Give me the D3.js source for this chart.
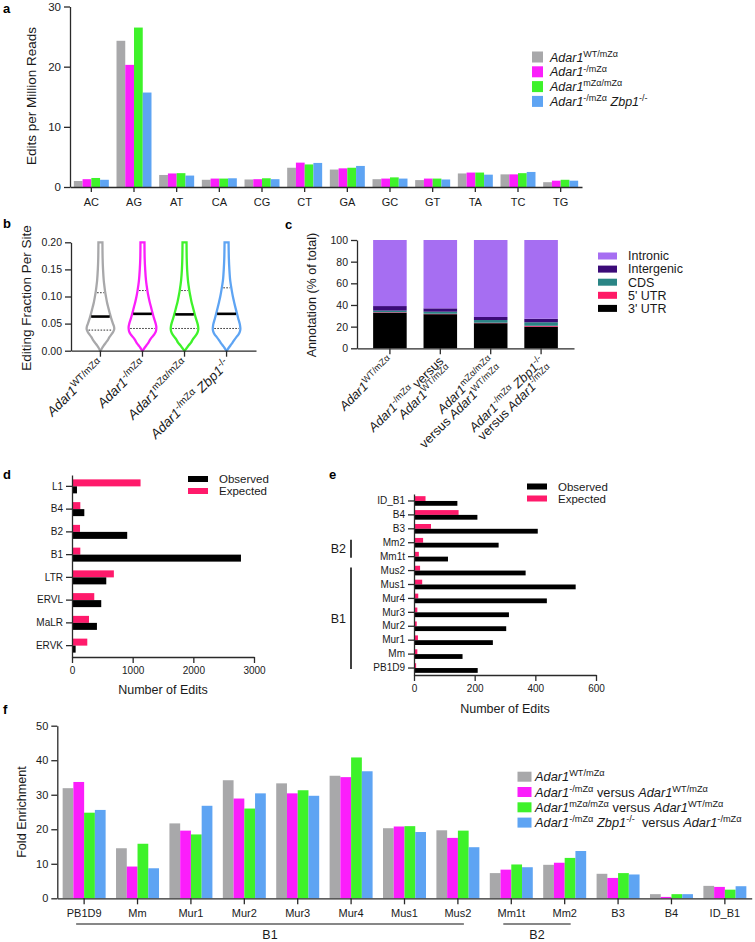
<!DOCTYPE html>
<html><head><meta charset="utf-8">
<script src="https://cdn.jsdelivr.net/npm/d3@7"></script>
<style>body{margin:0;background:#fff} svg{display:block} text{white-space:pre}</style>
</head><body><svg id="c" width="755" height="942"></svg>
<script>
// ---------- DATA ----------
const seriesColors = ["#a8a8aa","#fb1efb","#3ef22a","#5ea4f3"];
const aCats = ["AC","AG","AT","CA","CG","CT","GA","GC","GT","TA","TC","TG"];
const aWT   = [1.0,24.3,2.0,1.2,1.25,3.2,2.9,1.3,1.15,2.25,2.1,0.8];
const aNull = [1.3,20.3,2.25,1.4,1.3,4.05,3.1,1.4,1.4,2.4,2.1,1.05];
const aMZ   = [1.5,26.5,2.3,1.4,1.45,3.75,3.2,1.6,1.4,2.4,2.3,1.2];
const aZbp  = [1.2,15.7,1.9,1.45,1.3,4.0,3.5,1.4,1.25,2.05,2.5,1.05];
const aTicks = [0,10,20,30];
const aLegend = ["*Adar1*^WT/mZα^","*Adar1*^-/mZα^","*Adar1*^mZα/mZα^","*Adar1*^-/mZα^ *Zbp1*^-/-^"];

const bGroups = ["WT","Null","MZ","Zbp"];
const bLabels = ["*Adar1*^WT/mZα^","*Adar1*^-/mZα^","*Adar1*^mZα/mZα^","*Adar1*^-/mZα^ *Zbp1*^-/-^"];
const bLevels = [0,0.005,0.01,0.015,0.02,0.025,0.03,0.035,0.04,0.045,0.05,0.06,0.07,0.08,0.09,0.10,0.11,0.12,0.13,0.15,0.17,0.20];
const bDensWT   = [0.3,1.7,3.5,5.5,7.5,9,11,12.8,13.8,13.5,12.5,10.7,9.2,7.8,6.5,5.5,4.6,3.9,3.3,2.6,2.2,2.0];
const bDensNull = [0.3,2,4,6,7.5,9.5,11.8,13.3,13.8,13.8,13.2,11.5,10,8.6,7.2,6,5,4.2,3.5,2.7,2.2,2.0];
const bDensMZ   = [0.3,2.2,4.2,6.5,8,10,12,13.3,13.8,13.6,13,11.3,9.8,8.4,7,5.9,4.9,4.1,3.4,2.6,2.2,2.0];
const bDensZbp  = [0.3,2,4,6,7.8,9.8,12,13.3,13.8,13.6,13.1,11.6,10.2,8.8,7.5,6.3,5.3,4.4,3.6,2.8,2.3,2.0];
const bMedian = [0.063,0.068,0.067,0.068];
const bQ1 = [0.038,0.041,0.041,0.041];
const bQ3 = [0.107,0.111,0.111,0.116];
const bTicks = [0,0.05,0.10,0.15,0.20];

const cCats = ["c1","c2","c3","c4"];
const cLabels = [["*Adar1*^WT/mZα^"],["*Adar1*^-/mZα^ versus","*Adar1*^WT/mZα^"],["*Adar1*^mZα/mZα^","versus *Adar1*^WT/mZα^"],["*Adar1*^-/mZα^ *Zbp1*^-/-^","versus *Adar1*^-/mZα^"]];
const cKeys = ["3' UTR","5' UTR","CDS","Intergenic","Intronic"];
const c3UTR = [32.9,31.5,23.2,20.0];
const c5UTR = [0.4,0.4,0.4,0.8];
const cCDS  = [1.5,1.9,2.5,3.2];
const cInterg = [4.2,3.1,2.8,3.3];
const cIntron = [61.0,63.1,71.1,72.7];
const cColors = ["#000000","#ff1a66","#2a8585","#3b0b78","#a66ef2"];
const cTicks = [0,20,40,60,80,100];

const dCats = ["L1","B4","B2","B1","LTR","ERVL","MaLR","ERVK"];
const dObs = [82,203,910,2785,565,482,411,60];
const dExp = [1130,137,132,137,690,367,280,252];
const dTicks = [0,1000,2000,3000];

const eCats = ["ID_B1","B4","B3","Mm2","Mm1t","Mus2","Mus1","Mur4","Mur3","Mur2","Mur1","Mm","PB1D9"];
const eObs = [143,209,408,279,112,368,533,438,313,304,260,160,210];
const eExp = [38,147,56,30,16,20,27,14,11,9,13,11,7];
const eTicks = [0,200,400,600];
const eBrackets = [{label:"B2",from:"Mm2",to:"Mm1t"},{label:"B1",from:"Mus2",to:"PB1D9"}];

const fCats = ["PB1D9","Mm","Mur1","Mur2","Mur3","Mur4","Mus1","Mus2","Mm1t","Mm2","B3","B4","ID_B1"];
const fWT   = [31.9,14.5,21.7,34.2,33.3,35.5,20.3,19.7,7.3,9.7,7.1,1.2,3.6];
const fNull = [33.7,9.2,19.6,28.9,30.4,35.1,20.8,17.5,8.3,10.3,5.9,0.4,3.3];
const fMZ   = [24.8,15.8,18.5,26.0,31.3,40.8,20.9,19.6,9.8,11.7,7.3,1.2,2.5];
const fZbp  = [25.6,8.7,26.8,30.4,29.7,36.8,19.2,14.8,9.0,13.7,6.9,1.2,3.5];
const fTicks = [0,10,20,30,40,50];
const fLegend = ["*Adar1*^WT/mZα^","*Adar1*^-/mZα^ versus *Adar1*^WT/mZα^","*Adar1*^mZα/mZα^ versus *Adar1*^WT/mZα^","*Adar1*^-/mZα^ *Zbp1*^-/-^  versus *Adar1*^-/mZα^"];
const fBrackets = [{label:"B1",from:"PB1D9",to:"Mus2"},{label:"B2",from:"Mm1t",to:"Mm2"}];

// ---------- HELPERS ----------
const FONT = "'Liberation Sans', Arial, Helvetica, sans-serif";
const svg = d3.select("#c").attr("font-family", FONT);
const AX = "#2a2a2a";

function addRich(sel, str, size, supRatio){
  supRatio = supRatio || 0.72;
  const parts = str.split(/(\*[^*]+\*|\^[^^]+\^)/).filter(s=>s.length);
  let raised = false; const sh = size*0.38;
  parts.forEach(p=>{
    const ts = sel.append("tspan");
    if(p.startsWith("^")){
      ts.text(p.slice(1,-1)).attr("font-size", size*supRatio);
      if(!raised){ ts.attr("dy", -sh); raised = true; }
    } else {
      const it = p.startsWith("*");
      ts.text(it ? p.slice(1,-1) : p).attr("font-size", size);
      if(it) ts.attr("font-style","italic");
      if(raised){ ts.attr("dy", sh); raised = false; }
    }
  });
}
function styleAxis(g, fs){
  g.attr("font-family", FONT);
  g.select(".domain").attr("stroke", AX).attr("stroke-width", 1.3);
  g.selectAll(".tick line").attr("stroke", AX).attr("stroke-width", 1.3);
  g.selectAll(".tick text").attr("fill", "#1a1a1a").attr("font-size", fs);
}
function panelLabel(t, x, y){
  svg.append("text").attr("x",x).attr("y",y).attr("font-weight","bold").attr("font-size",13).text(t);
}
function yLabel(t, x, y, fs){
  svg.append("text").attr("transform",`translate(${x},${y}) rotate(-90)`).attr("text-anchor","middle").attr("font-size",fs).attr("fill","#1a1a1a").text(t);
}

// ---------- PANEL A ----------
{
  const g = svg.append("g");
  const vals = [aWT,aNull,aMZ,aZbp];
  const x = d3.scaleBand().domain(aCats).range([70,582]).paddingInner(0.18).paddingOuter(0.09);
  const xs = d3.scaleBand().domain(d3.range(4)).range([0,x.bandwidth()]);
  const y = d3.scaleLinear().domain([0,30]).range([187,6.5]);
  vals.forEach((arr,k)=>{
    g.selectAll(null).data(aCats).join("rect")
      .attr("x",(c)=>x(c)+xs(k)).attr("y",(c,i)=>y(arr[i]))
      .attr("width",xs.bandwidth()).attr("height",(c,i)=>y(0)-y(arr[i])).attr("fill",seriesColors[k]);
  });
  g.append("g").attr("transform","translate(0,187)").call(d3.axisBottom(x).tickSize(5).tickPadding(6).tickSizeOuter(0)).call(s=>styleAxis(s,11));
  g.append("g").attr("transform","translate(70,0)").call(d3.axisLeft(y).tickValues(aTicks).tickSize(6).tickPadding(3).tickSizeOuter(0)).call(s=>styleAxis(s,11.5));
  yLabel("Edits per Million Reads", 36, 96, 13.5);
  aLegend.forEach((t,k)=>{
    const cy = 57 + k*14.8;
    g.append("rect").attr("x",532).attr("y",cy-5.5).attr("width",11).attr("height",11).attr("fill",seriesColors[k]);
    const tx = g.append("text").attr("x",550).attr("y",cy+4.5).attr("fill","#1a1a1a");
    addRich(tx,t,12.5);
  });
  panelLabel("a",3,13);
}

// ---------- PANEL B ----------
{
  const g = svg.append("g");
  const dens = [bDensWT,bDensNull,bDensMZ,bDensZbp];
  const x = d3.scaleBand().domain(bGroups).range([71,256]).paddingInner(0).paddingOuter(0.2);
  const y = d3.scaleLinear().domain([0,0.2]).range([350.7,242.3]);
  const w = d3.scaleLinear().domain([0,13.8]).range([0,13.8]);
  bGroups.forEach((grp,k)=>{
    const cx = x(grp)+x.bandwidth()/2;
    const pts = bLevels.map((v,i)=>({v, d:dens[k][i]}));
    const area = d3.area().curve(d3.curveCatmullRom)
      .y(d=>y(d.v)).x0(d=>cx-w(d.d)).x1(d=>cx+w(d.d));
    g.append("path").attr("d",area(pts)).attr("fill","none").attr("stroke",seriesColors[k]).attr("stroke-width",2.3);
    const hw = v => w(d3.scaleLinear().domain(bLevels).range(dens[k])(v));
    g.append("line").attr("x1",cx-hw(bMedian[k])+1).attr("x2",cx+hw(bMedian[k])-1).attr("y1",y(bMedian[k])).attr("y2",y(bMedian[k])).attr("stroke","#000").attr("stroke-width",2.6);
    [bQ1[k],bQ3[k]].forEach(q=>{
      g.append("line").attr("x1",cx-hw(q)+1.5).attr("x2",cx+hw(q)-1.5).attr("y1",y(q)).attr("y2",y(q)).attr("stroke","#333").attr("stroke-width",1).attr("stroke-dasharray","1.6,1.4");
    });
  });
  g.append("g").attr("transform","translate(0,350.7)").call(d3.axisBottom(x).tickSize(6).tickSizeOuter(0).tickFormat("")).call(s=>styleAxis(s,11));
  g.append("g").attr("transform","translate(71,0)").call(d3.axisLeft(y).tickValues(bTicks).tickFormat(d3.format(".2f")).tickSize(6).tickPadding(3).tickSizeOuter(0)).call(s=>styleAxis(s,10.5));
  yLabel("Editing Fraction Per Site", 31, 298, 13.5);
  bGroups.forEach((grp,k)=>{
    const cx = x(grp)+x.bandwidth()/2;
    const t = g.append("text").attr("text-anchor","end").attr("fill","#1a1a1a").attr("transform",`translate(${cx+4},${365}) rotate(-45)`);
    addRich(t,bLabels[k],13.5);
  });
  panelLabel("b",3,228);
}

// ---------- PANEL C ----------
{
  const g = svg.append("g");
  const layers = [c3UTR,c5UTR,cCDS,cInterg,cIntron];
  const x = d3.scaleBand().domain(cCats).range([357,574]).paddingInner(0.334).paddingOuter(0.32);
  const y = d3.scaleLinear().domain([0,100]).range([348.3,240]);
  const rows = cCats.map((c,i)=>{ const o={cat:c}; cKeys.forEach((k,j)=>o[k]=layers[j][i]); return o; });
  const stack = d3.stack().keys(cKeys)(rows);
  stack.forEach((layer,j)=>{
    g.selectAll(null).data(layer).join("rect")
      .attr("x",d=>x(d.data.cat)).attr("width",x.bandwidth())
      .attr("y",d=>y(d[1])).attr("height",d=>y(d[0])-y(d[1])).attr("fill",cColors[j]);
  });
  g.append("g").attr("transform","translate(0,348.3)").call(d3.axisBottom(x).tickSize(6).tickSizeOuter(0).tickFormat("")).call(s=>styleAxis(s,11));
  g.append("g").attr("transform","translate(357,0)").call(d3.axisLeft(y).tickValues(cTicks).tickSize(6).tickPadding(3).tickSizeOuter(0)).call(s=>styleAxis(s,10.5));
  yLabel("Annotation (% of total)", 316, 295, 12.6);
  cCats.forEach((c,i)=>{
    const cx = x(c)+x.bandwidth()/2;
    cLabels[i].forEach((ln,j)=>{
      const t = g.append("text").attr("text-anchor","end").attr("fill","#1a1a1a").attr("y",j*12)
        .attr("transform",`translate(${cx+4},${362}) rotate(-45)`);
      addRich(t,ln,12.8);
    });
  });
  const legendOrder = [4,3,2,1,0];
  legendOrder.forEach((j,r)=>{
    const cy = 256 + r*13.1;
    g.append("rect").attr("x",598).attr("y",cy-3.5).attr("width",19).attr("height",7).attr("fill",cColors[j]);
    g.append("text").attr("x",628).attr("y",cy+4.3).attr("font-size",12.5).attr("fill","#1a1a1a").text(cKeys[j]);
  });
  panelLabel("c",285,229);
}

// ---------- PANEL D ----------
const obsCol = "#000000", expCol = "#ff1a6b";
{
  const g = svg.append("g");
  const y = d3.scaleBand().domain(dCats).range([475,657]);
  const x = d3.scaleLinear().domain([0,3000]).range([72,254]);
  const h = 7;
  g.selectAll(null).data(dCats).join("rect").attr("x",x(0)).attr("y",c=>y(c)+y.bandwidth()/2-h)
    .attr("width",(c,i)=>x(dExp[i])-x(0)).attr("height",h).attr("fill",expCol);
  g.selectAll(null).data(dCats).join("rect").attr("x",x(0)).attr("y",c=>y(c)+y.bandwidth()/2)
    .attr("width",(c,i)=>x(dObs[i])-x(0)).attr("height",h).attr("fill",obsCol);
  g.append("g").attr("transform","translate(72,0)").call(d3.axisLeft(y).tickSize(6).tickPadding(3).tickSizeOuter(0)).call(s=>styleAxis(s,10));
  g.append("g").attr("transform","translate(0,657)").call(d3.axisBottom(x).tickValues(dTicks).tickFormat(d3.format("d")).tickSize(6).tickPadding(4).tickSizeOuter(0)).call(s=>styleAxis(s,10));
  g.append("text").attr("x",163).attr("y",694).attr("text-anchor","middle").attr("font-size",12.5).attr("fill","#1a1a1a").text("Number of Edits");
  [["Observed",obsCol],["Expected",expCol]].forEach((d,k)=>{
    const cy = 479 + k*12;
    g.append("rect").attr("x",188).attr("y",cy-3).attr("width",20).attr("height",6).attr("fill",d[1]);
    g.append("text").attr("x",219).attr("y",cy+4.2).attr("font-size",11.5).attr("fill","#1a1a1a").text(d[0]);
  });
  panelLabel("d",3,479);
}

// ---------- PANEL E ----------
{
  const g = svg.append("g");
  const y = d3.scaleBand().domain(eCats).range([494,675]);
  const x = d3.scaleLinear().domain([0,600]).range([414,596]);
  const h = 4.8;
  g.selectAll(null).data(eCats).join("rect").attr("x",x(0)).attr("y",c=>y(c)+y.bandwidth()/2-h)
    .attr("width",(c,i)=>x(eExp[i])-x(0)).attr("height",h).attr("fill",expCol);
  g.selectAll(null).data(eCats).join("rect").attr("x",x(0)).attr("y",c=>y(c)+y.bandwidth()/2)
    .attr("width",(c,i)=>x(eObs[i])-x(0)).attr("height",h).attr("fill",obsCol);
  g.append("g").attr("transform","translate(414,0)").call(d3.axisLeft(y).tickSize(6).tickPadding(3).tickSizeOuter(0)).call(s=>styleAxis(s,10));
  g.append("g").attr("transform","translate(0,675)").call(d3.axisBottom(x).tickValues(eTicks).tickFormat(d3.format("d")).tickSize(6).tickPadding(4).tickSizeOuter(0)).call(s=>styleAxis(s,10));
  g.append("text").attr("x",505).attr("y",713).attr("text-anchor","middle").attr("font-size",12.5).attr("fill","#1a1a1a").text("Number of Edits");
  [["Observed",obsCol],["Expected",expCol]].forEach((d,k)=>{
    const cy = 486.5 + k*12;
    g.append("rect").attr("x",527).attr("y",cy-3).attr("width",20).attr("height",6).attr("fill",d[1]);
    g.append("text").attr("x",558).attr("y",cy+4.2).attr("font-size",11.5).attr("fill","#1a1a1a").text(d[0]);
  });
  eBrackets.forEach(b=>{
    const y1 = y(b.from)+y.bandwidth()/2-3, y2 = y(b.to)+y.bandwidth()/2+1;
    g.append("line").attr("x1",351).attr("x2",351).attr("y1",y1).attr("y2",y2).attr("stroke","#111").attr("stroke-width",1.6);
    g.append("text").attr("x",346).attr("y",(y1+y2)/2+4.5).attr("text-anchor","end").attr("font-size",12.5).attr("fill","#1a1a1a").text(b.label);
  });
  panelLabel("e",329,479);
}

// ---------- PANEL F ----------
{
  const g = svg.append("g");
  const vals = [fWT,fNull,fMZ,fZbp];
  const x = d3.scaleBand().domain(fCats).range([57.3,751.7]).paddingInner(0.195).paddingOuter(0.1);
  const xs = d3.scaleBand().domain(d3.range(4)).range([0,x.bandwidth()]);
  const y = d3.scaleLinear().domain([0,50]).range([898.3,725.7]);
  vals.forEach((arr,k)=>{
    g.selectAll(null).data(fCats).join("rect")
      .attr("x",c=>x(c)+xs(k)).attr("y",(c,i)=>y(arr[i]))
      .attr("width",xs.bandwidth()).attr("height",(c,i)=>y(0)-y(arr[i])).attr("fill",seriesColors[k]);
  });
  g.append("g").attr("transform","translate(0,898.3)").call(d3.axisBottom(x).tickSize(6).tickPadding(5).tickSizeOuter(0)).call(s=>styleAxis(s,11));
  g.append("g").attr("transform","translate(57.3,0)").call(d3.axisLeft(y).tickValues(fTicks).tickSize(6).tickPadding(3).tickSizeOuter(0)).call(s=>styleAxis(s,11));
  yLabel("Fold Enrichment", 26, 812, 12.6);
  fLegend.forEach((t,k)=>{
    const cy = 776.7 + k*15.3;
    g.append("rect").attr("x",517.5).attr("y",cy-5).attr("width",14).attr("height",10).attr("fill",seriesColors[k]);
    const tx = g.append("text").attr("x",535).attr("y",cy+4.5).attr("fill","#1a1a1a");
    addRich(tx,t,12.8);
  });
  fBrackets.forEach(b=>{
    const x1 = x(b.from)+x.bandwidth()/2-8, x2 = x(b.to)+x.bandwidth()/2+6;
    g.append("line").attr("x1",x1).attr("x2",x2).attr("y1",924).attr("y2",924).attr("stroke","#111").attr("stroke-width",1.1);
    g.append("text").attr("x",(x1+x2)/2).attr("y",939).attr("text-anchor","middle").attr("font-size",12.5).attr("fill","#1a1a1a").text(b.label);
  });
  panelLabel("f",3,714);
}
</script></body></html>
